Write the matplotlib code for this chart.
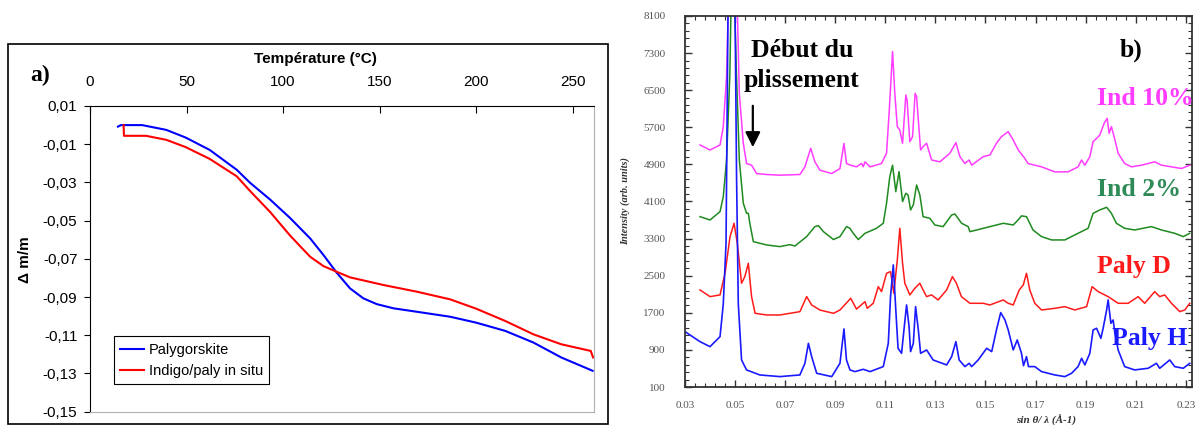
"""Two-panel figure: (a) TGA mass loss curves, (b) XRD patterns of indigo/palygorskite."""
import matplotlib
matplotlib.use("Agg")
import matplotlib.pyplot as plt
from matplotlib.patches import Rectangle
from matplotlib.ticker import FuncFormatter, MultipleLocator, AutoMinorLocator

# ---- panel a) : thermogravimetry -------------------------------------------
paly_T = [14.5, 16, 27, 39.5, 49.5, 62, 76, 82.9, 93.3, 103.6, 114, 120.9,
          127.8, 134.7, 141.6, 148.5, 157.2, 169.3, 186.5, 200, 215, 229.6,
          244, 260.3]
paly_dm = [-0.0008, 0.0, 0.0, -0.0025, -0.0065, -0.013, -0.0234, -0.0302,
           -0.0390, -0.0486, -0.0593, -0.0680, -0.0773, -0.0855, -0.0907,
           -0.0937, -0.0959, -0.0977, -0.1003, -0.1034, -0.1077, -0.1138,
           -0.1216, -0.1286]

indigo_T = [17.4, 17.6, 18.5, 29, 39.5, 49.5, 62, 76, 82.9, 93.3, 103.6, 114,
            120.9, 127.8, 134.7, 152, 169.3, 186.5, 200, 215, 229.6, 244,
            259.3, 260.5]
indigo_dm = [0.0, -0.0056, -0.0056, -0.0056, -0.0077, -0.0115, -0.0177,
             -0.0268, -0.0345, -0.0455, -0.0578, -0.0689, -0.0738, -0.0768,
             -0.0797, -0.0837, -0.0872, -0.0912, -0.0961, -0.1025, -0.1095,
             -0.1147, -0.1182, -0.1216]

# ---- panel b) : XRD patterns (sin(theta)/lambda, intensity) ----------------
ind10_x = [0.036, 0.040, 0.044, 0.0453, 0.0466, 0.0473, 0.0490, 0.0509, 0.0517,
           0.0533, 0.0546, 0.0566, 0.0586, 0.0626, 0.0679, 0.0759, 0.0779,
           0.0802, 0.0819, 0.0839, 0.0886, 0.0919, 0.0935, 0.0945, 0.0959,
           0.0985, 0.1005, 0.1012, 0.1019, 0.1039, 0.1085, 0.1105, 0.1116,
           0.1129, 0.1138, 0.1148, 0.1158, 0.1169, 0.1182, 0.1187, 0.1198,
           0.1209, 0.1219, 0.1225, 0.1241, 0.1251, 0.1265, 0.1285, 0.1318,
           0.1358, 0.1382, 0.1398, 0.1418, 0.1435, 0.1445, 0.1491, 0.1518,
           0.1544, 0.1564, 0.1591, 0.1611, 0.1631, 0.1657, 0.1670, 0.1724,
           0.1777, 0.1830, 0.1870, 0.1884, 0.1897, 0.1917, 0.1930, 0.1944,
           0.1957, 0.1974, 0.1986, 0.1994, 0.2003, 0.2014, 0.2030, 0.2056,
           0.2083, 0.2123, 0.2176, 0.2203, 0.2243, 0.2283, 0.2316]
ind10_y = [5319, 5211, 5319, 5714, 6791, 8300, 9500, 8300, 6433,
           5352, 4919, 4883, 4703, 4682, 4667, 4682, 4847,
           5247, 4955, 4775, 4703, 4811, 5352, 4919, 4888,
           4847, 4919, 4850, 4955, 4847, 4919, 5140, 6073,
           7331, 6433, 5714, 5642, 5355, 6397, 6290, 5390,
           5498, 6433, 6361, 5211, 5283, 5355, 4995, 4955,
           5140, 5370, 5067, 4919, 4995, 4883, 5067, 5103,
           5355, 5498, 5606, 5427, 5211, 5031, 4919, 4847,
           4739, 4739, 4847, 4995, 4883, 5067, 5390, 5462,
           5534, 5786, 5894, 5570, 5714, 5498, 5140, 4919,
           4847, 4883, 4955, 4883, 4847, 4811, 4883]

ind2_x = [0.036, 0.040, 0.044, 0.0453, 0.0466, 0.0479, 0.0484, 0.0492, 0.0506,
          0.0517, 0.0533, 0.0546, 0.0553, 0.0559, 0.0573, 0.0626, 0.0679,
          0.0719, 0.0739, 0.0786, 0.0819, 0.0833, 0.0853, 0.0893, 0.0919,
          0.0945, 0.0959, 0.0972, 0.0992, 0.1019, 0.1065, 0.1092, 0.1105,
          0.1118, 0.1129, 0.1142, 0.1155, 0.1169, 0.1182, 0.1191, 0.1201,
          0.1212, 0.1225, 0.1238, 0.1251, 0.1278, 0.1298, 0.1331, 0.1365,
          0.1378, 0.1405, 0.1431, 0.1438, 0.1465, 0.1518, 0.1571, 0.1611,
          0.1630, 0.1644, 0.1664, 0.1690, 0.1724, 0.1764, 0.1817, 0.1870,
          0.1910, 0.1930, 0.1957, 0.1984, 0.2003, 0.2023, 0.2056, 0.2096,
          0.2163, 0.2203, 0.2256, 0.2290, 0.2316]
ind2_y = [3773, 3701, 3881, 4204, 4995, 6792, 8300, 9500, 6792,
          4995, 4062, 3846, 3846, 3631, 3234, 3163, 3127,
          3170, 3140, 3343, 3558, 3580, 3450, 3280, 3343,
          3558, 3522, 3414, 3280, 3414, 3522, 3630, 4062,
          4636, 4883, 4312, 4744, 4098, 4277, 4241, 3918,
          4026, 4456, 4241, 3773, 3737, 3594, 3558, 3809,
          3830, 3630, 3558, 3450, 3486, 3558, 3630, 3594,
          3700, 3790, 3773, 3486, 3343, 3271, 3271, 3414,
          3522, 3846, 3918, 3975, 3846, 3630, 3522, 3486,
          3558, 3486, 3414, 3343, 3414]

palyd_x = [0.036, 0.040, 0.044, 0.046, 0.048, 0.0496, 0.0509, 0.0526, 0.0539,
           0.0553, 0.0566, 0.058, 0.0626, 0.0679, 0.0759, 0.0786, 0.0806,
           0.0839, 0.0893, 0.0919, 0.0962, 0.0985, 0.1019, 0.1028, 0.1052,
           0.1072, 0.1085, 0.1105, 0.1121, 0.1134, 0.1148, 0.1158, 0.1169,
           0.1178, 0.1198, 0.1218, 0.1238, 0.1251, 0.1265, 0.1285, 0.1311,
           0.1345, 0.1368, 0.1384, 0.1404, 0.1438, 0.1491, 0.1518, 0.1571,
           0.1591, 0.1611, 0.1635, 0.1651, 0.1664, 0.1677, 0.1697, 0.1724,
           0.1777, 0.1817, 0.1857, 0.1904, 0.1926, 0.1950, 0.1990, 0.2030,
           0.2070, 0.2110, 0.2136, 0.2176, 0.2196, 0.2216, 0.2243, 0.2276,
           0.2296, 0.2316]
palyd_y = [2193, 2049, 2085, 2553, 3343, 3630, 3199, 2337, 2480,
           2767, 2049, 1689, 1653, 1653, 1725, 2049, 1869,
           1760, 1689, 1760, 2013, 1780, 1941, 1797, 1905,
           2264, 2157, 2552, 2588, 2121, 2839, 3522, 2767,
           2337, 2085, 2228, 2337, 2193, 2049, 2085, 1977,
           2193, 2480, 2337, 2049, 1905, 1905, 1869, 1977,
           1905, 1869, 2193, 2300, 2552, 2193, 1905, 1761,
           1797, 1833, 1761, 1833, 2264, 2157, 2049, 1905,
           1905, 2049, 1905, 2157, 2049, 2085, 1905, 1725,
           1761, 1905]

palyh_x = [0.0300, 0.036, 0.040, 0.044, 0.0453, 0.0464, 0.0472, 0.0485, 0.0500,
           0.0506, 0.0513, 0.0526, 0.0546, 0.0599, 0.0679, 0.0759, 0.0779,
           0.0793, 0.0806, 0.0826, 0.0886, 0.0919, 0.0935, 0.0945, 0.0959,
           0.0979, 0.1012, 0.1039, 0.1092, 0.1112, 0.1121, 0.1132, 0.1142,
           0.1151, 0.1165, 0.1178, 0.1185, 0.1195, 0.1201, 0.1212, 0.1221,
           0.1232, 0.1241, 0.1265, 0.1291, 0.1345, 0.1365, 0.1382, 0.1395,
           0.1418, 0.1435, 0.1445, 0.1471, 0.1505, 0.1525, 0.1544, 0.1561,
           0.1578, 0.1591, 0.1611, 0.1627, 0.1644, 0.1652, 0.1664, 0.1672,
           0.1697, 0.1724, 0.1777, 0.1817, 0.1844, 0.1870, 0.1884, 0.1897,
           0.1917, 0.1930, 0.1944, 0.1961, 0.1970, 0.1984, 0.1990, 0.2001,
           0.2010, 0.2017, 0.2030, 0.2056, 0.2096, 0.2150, 0.2183, 0.2196,
           0.2236, 0.2256, 0.2290, 0.2316]
palyh_y = [1294, 1078, 970, 1186, 1891, 3199, 8300, 12000, 8300,
           4636, 1891, 683, 468, 360, 324, 360, 611,
           1042, 754, 396, 324, 611, 1352, 683, 468,
           432, 482, 432, 540, 1043, 2049, 2732, 1761,
           935, 827, 1509, 1869, 1402, 863, 1043, 1833,
           1330, 827, 899, 683, 576, 755, 1078, 683,
           540, 611, 540, 683, 935, 863, 1330, 1704,
           1545, 1330, 899, 1114, 827, 560, 755, 540,
           540, 432, 360, 324, 396, 540, 719, 576,
           827, 1330, 1366, 1150, 1366, 1761, 1977, 1474,
           1545, 1258, 899, 540, 468, 504, 611, 504,
           683, 540, 504, 611]

xrd_ticks = [0.03, 0.05, 0.07, 0.09, 0.11, 0.13, 0.15, 0.17, 0.19, 0.21, 0.23]
int_ticks = [100, 900, 1700, 2500, 3300, 4100, 4900, 5700, 6500, 7300, 8100]

SANS = "Liberation Sans"
SERIF = "Liberation Serif"

fig = plt.figure(figsize=(11.95, 4.25), dpi=100)

# outer frame around panel a)
fig.patches.append(Rectangle((0.0071, 0.0012), 0.5013, 0.8941, transform=fig.transFigure,
                             fill=False, edgecolor="black", linewidth=1.2))

# ---------------- panel a) ----------------
ax = fig.add_axes([0.0753, 0.0313, 0.4218, 0.7193])
ax.plot(paly_T, paly_dm, color="#0000ff", linewidth=1.5, label="Palygorskite")
ax.plot(indigo_T, indigo_dm, color="#ff0000", linewidth=1.5, label="Indigo/paly in situ")
ax.set_xlim(0, 261)
ax.set_ylim(-0.15, 0.01)
ax.xaxis.tick_top()
ax.xaxis.set_major_locator(MultipleLocator(50))
ax.set_yticks([0.01 - 0.02 * i for i in range(9)])
ax.yaxis.set_major_formatter(FuncFormatter(lambda v, p: f"{v:.2f}".replace(".", ",")))
ax.tick_params(axis="x", direction="in", length=5, pad=12, labelsize=11)
ax.tick_params(axis="y", direction="out", length=4, pad=5, labelsize=11)
for lab in ax.get_xticklabels() + ax.get_yticklabels():
    lab.set_family(SANS)
for side in ("right", "bottom"):
    ax.spines[side].set_color("#b0b0b0")
for side in ("left", "top"):
    ax.spines[side].set_color("black")
ax.text(0.448, 1.154, "Température (°C)", transform=ax.transAxes, ha="center",
        va="center", fontsize=11, fontweight="bold", family=SANS)
ax.text(-0.129, 0.496, "Δ m/m", transform=ax.transAxes, ha="center", va="center",
        rotation=90, fontsize=11, fontweight="bold", family=SANS)
ax.text(-0.099, 1.101, "a)", transform=ax.transAxes, ha="center", va="center",
        fontsize=17, fontweight="bold", family=SERIF)
leg = ax.legend(loc="lower left", bbox_to_anchor=(0.047, 0.09), borderaxespad=0,
                frameon=True, fancybox=False, edgecolor="black", framealpha=1,
                prop={"family": SANS, "size": 10.5}, handlelength=1.6,
                handletextpad=0.35, borderpad=0.45, labelspacing=0.45)
leg.get_frame().set_linewidth(0.8)

# ---------------- panel b) ----------------
bx = fig.add_axes([0.5732, 0.0894, 0.4243, 0.873])
bx.plot(ind10_x, ind10_y, color="#ff3cff", linewidth=1.1)
bx.plot(ind2_x, ind2_y, color="#1f8a1f", linewidth=1.1)
bx.plot(palyd_x, palyd_y, color="#ff1a1a", linewidth=1.1)
bx.plot(palyh_x, palyh_y, color="#1a1aff", linewidth=1.2)
bx.set_xlim(0.03, 0.2325)
bx.set_ylim(100, 8100)
bx.set_xticks(xrd_ticks)
bx.set_yticks(int_ticks)
bx.xaxis.set_major_formatter(FuncFormatter(lambda v, p: f"{v:.2f}"))
bx.xaxis.set_minor_locator(AutoMinorLocator(5))
bx.yaxis.set_minor_locator(AutoMinorLocator(5))
bx.tick_params(which="both", direction="in", top=True, right=True,
               color="#333333", labelcolor="#555555", labelsize=8)
bx.tick_params(which="major", length=5, width=1.0)
bx.tick_params(which="minor", length=3, width=0.8)
bx.tick_params(axis="y", pad=14)
bx.tick_params(axis="x", pad=10)
for lab in bx.get_xticklabels() + bx.get_yticklabels():
    lab.set_family(SERIF)
for sp in bx.spines.values():
    sp.set_color("#333333")
    sp.set_linewidth(1.3)
bx.text(-0.118, 0.501, "Intensity (arb. units)", transform=bx.transAxes,
        rotation=90, ha="center", va="center", fontsize=7.5, fontweight="bold",
        fontstyle="italic", family=SERIF, color="#333333")
bx.text(0.712, -0.089, "sin θ/ λ (Å-1)", transform=bx.transAxes, ha="center",
        va="center", fontsize=8, fontstyle="italic", fontweight="bold",
        family=SERIF, color="#333333", clip_on=False)

big = dict(fontsize=18.5, fontweight="bold", family=SERIF, va="baseline")
bx.text(0.0767, 7216, "Début du", ha="center", color="black", **big)
bx.text(0.0767, 6569, "plissement", ha="center", color="black", **big)
bx.text(0.2037, 7216, "b)", ha="left", color="black", **big)
bx.text(0.1945, 6181, "Ind 10%", ha="left", color="#ff3cff", clip_on=False, **big)
bx.text(0.1945, 4219, "Ind 2%", ha="left", color="#2e8b57", **big)
bx.text(0.1945, 2559, "Paly D", ha="left", color="#ff1a1a", **big)
bx.text(0.2005, 1007, "Paly H", ha="left", color="#1a1aff", **big)
bx.annotate("", xy=(0.0571, 5211), xytext=(0.0571, 6224),
            arrowprops=dict(arrowstyle="-|>,head_length=0.9,head_width=0.45",
                            color="black", linewidth=1.6))

fig.savefig("out.png", dpi=100)
